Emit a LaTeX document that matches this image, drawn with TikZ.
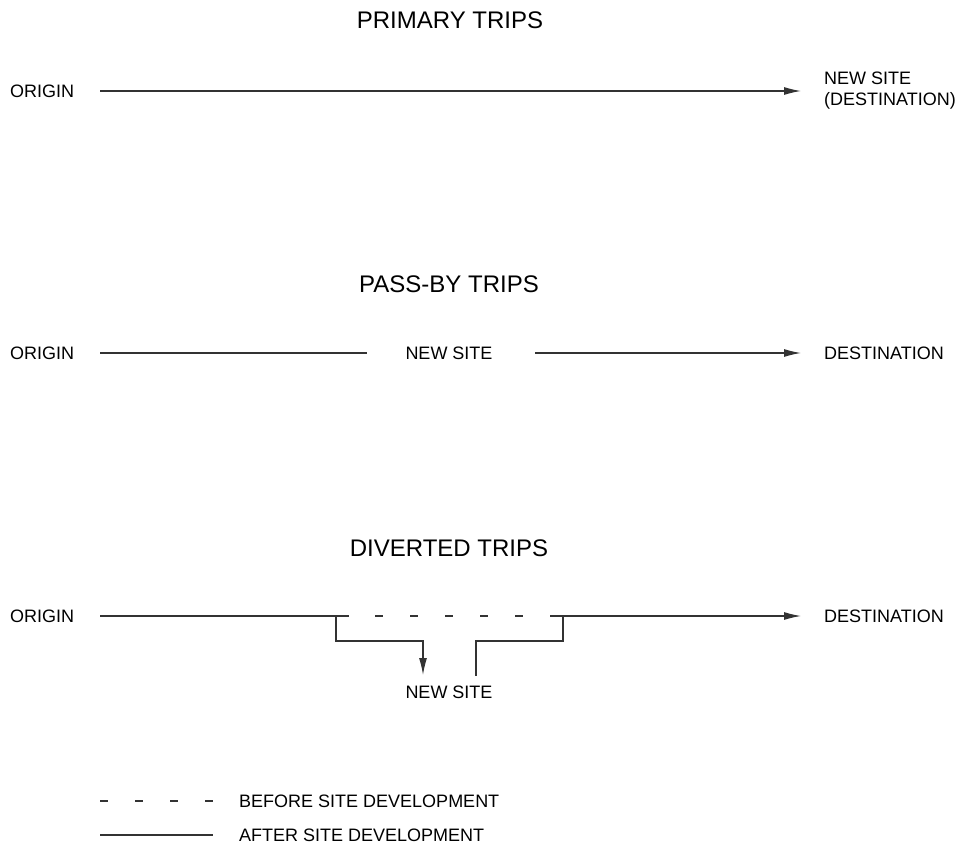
\documentclass[tikz,border=0pt]{standalone}
\usepackage{fontspec}
\setmainfont{Liberation Sans}
\usetikzlibrary{arrows.meta}
\begin{document}
\begin{tikzpicture}[x=1pt,y=-1pt,
  lbl/.style={font=\fontsize{18}{21}\selectfont, inner sep=0pt, anchor=west, text=black},
  ttl/.style={font=\fontsize{24}{27}\selectfont, inner sep=0pt, text=black},
  ln/.style={line width=1.2pt, draw=black!80},
  arr/.style={ln, -{Latex[length=17pt,width=8pt]}},
  dsh/.style={ln, dash pattern=on 8pt off 27pt, dash phase=9pt}]
\useasboundingbox (0,0) rectangle (962,846);
% titles
\node[ttl] (t1) at (450,20) {PRIMARY TRIPS};
\node[ttl] (t2) at (449,284) {PASS-BY TRIPS};
\node[ttl] (t3) at (449,548) {DIVERTED TRIPS};
% primary
\node[lbl] (o1) at (10,91) {ORIGIN};
\node[lbl, align=left] (d1) at (824,91) {NEW SITE\\(DESTINATION)};
\coordinate (a1) at (100,91);
\coordinate (b1) at (801,91);
\draw[arr] (a1) -- (b1);
% pass-by
\node[lbl] (o2) at (10,353) {ORIGIN};
\node[lbl, anchor=center] (s2) at (449,353) {NEW SITE};
\node[lbl] (d2) at (824,353) {DESTINATION};
\coordinate (a2) at (100,353);
\coordinate (b2) at (367,353);
\coordinate (c2) at (535,353);
\coordinate (e2) at (801,353);
\draw[ln] (a2) -- (b2);
\draw[arr] (c2) -- (e2);
% diverted
\node[lbl] (o3) at (10,616) {ORIGIN};
\node[lbl] (d3) at (824,616) {DESTINATION};
\node[lbl, anchor=center] (s3) at (449,692) {NEW SITE};
\coordinate (a3) at (100,616);
\coordinate (b3) at (349,616);
\coordinate (c3) at (550,616);
\coordinate (e3) at (801,616);
\coordinate (l3) at (336,616);
\coordinate (lt) at (423,675);
\coordinate (r3) at (563,616);
\coordinate (rt) at (476,676);
\draw[ln] (a3) -- (b3);
\draw[dsh] (b3) -- (c3);
\draw[arr] (c3) -- (e3);
\draw[arr] (l3) |- (423,641) -- (lt);
\draw[ln] (r3) |- (476,641) -- (rt);
% legend
\coordinate (la) at (100,801);
\coordinate (lb) at (213,801);
\coordinate (lc) at (100,835);
\coordinate (ld) at (213,835);
\draw[ln, dash pattern=on 8pt off 27pt] (la) -- (lb);
\draw[ln] (lc) -- (ld);
\node[lbl] (k1) at (239,801) {BEFORE SITE DEVELOPMENT};
\node[lbl] (k2) at (239,835) {AFTER SITE DEVELOPMENT};
\end{tikzpicture}
\end{document}
